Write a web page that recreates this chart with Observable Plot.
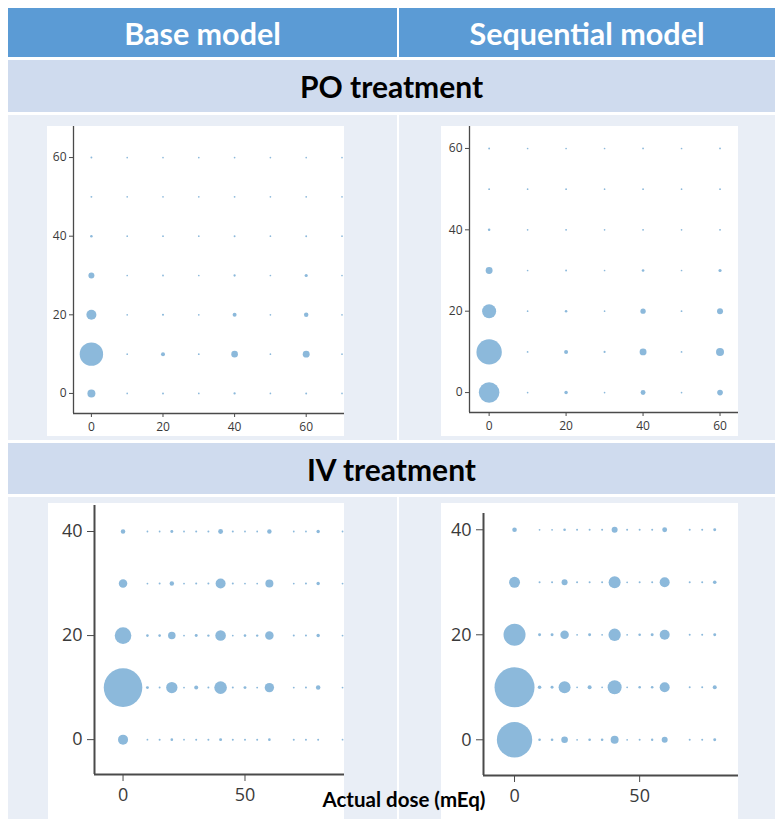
<!DOCTYPE html>
<html>
<head>
<meta charset="utf-8">
<script src="https://cdn.jsdelivr.net/npm/d3@7"></script>
<script src="https://cdn.jsdelivr.net/npm/@observablehq/plot@0.6"></script>
<style>
  html, body { margin: 0; padding: 0; background: #ffffff; }
  #root { position: relative; width: 775px; height: 819px; overflow: hidden; background: #ffffff; }
  .cell { position: absolute; box-sizing: border-box; }
  .hdr { background: #5B9BD5; color: #ffffff; font-family: Lato, "Open Sans", sans-serif; font-weight: 700; font-size: 30.5px; display: flex; align-items: center; justify-content: center; }
  .sub { background: #CFDBEE; color: #000000; font-family: Lato, "Open Sans", sans-serif; font-weight: 700; font-size: 30px; display: flex; align-items: center; justify-content: center; }
  .pan { background: #E9EEF6; }
  .plot { position: absolute; }
  #xlabel { position: absolute; left: 0; width: 808px; top: 786px; line-height: 26px; text-align: center; font-family: Lato, "Open Sans", sans-serif; font-weight: 700; font-size: 20.5px; color: #000; }
</style>
</head>
<body>
<div id="root">
  <div class="cell hdr" style="left:8px;top:8px;width:389px;height:49px;">Base model</div>
  <div class="cell hdr" style="left:399px;top:8px;width:376px;height:49px;">Sequential model</div>
  <div class="cell sub" style="left:8px;top:60px;width:767px;height:52px;">PO treatment</div>
  <div class="cell pan" style="left:8px;top:115px;width:389px;height:325px;"></div>
  <div class="cell pan" style="left:399px;top:115px;width:376px;height:325px;"></div>
  <div class="cell sub" style="left:8px;top:443px;width:767px;height:51px;">IV treatment</div>
  <div class="cell pan" style="left:8px;top:497px;width:389px;height:322px;"></div>
  <div class="cell pan" style="left:399px;top:497px;width:376px;height:322px;"></div>
  <div class="plot" id="poBase" style="left:47px;top:126px;"></div>
  <div class="plot" id="poSeq" style="left:441px;top:126px;"></div>
  <div class="plot" id="ivBase" style="left:48px;top:503px;"></div>
  <div class="plot" id="ivSeq" style="left:441px;top:503px;"></div>
  <div id="xlabel">Actual dose (mEq)</div>
</div>
<script>
// ---- Data (bubble area values, rows = y level, columns = x level) ----
const poBaseX = [0, 10, 20, 30, 40, 50, 60, 70];
const poSeqX  = [0, 10, 20, 30, 40, 50, 60];
const poY     = [0, 10, 20, 30, 40, 50, 60];
const poTicks = [0, 20, 40, 60];

const poBaseSize = [
  [16,  0.7, 0.9, 0.7, 1.3, 0.7, 0.9, 0.7],   // y = 0
  [137, 0.7, 4,   0.8, 11,  0.7, 12,  0.7],   // y = 10
  [25,  0.7, 1.1, 0.7, 4,   0.7, 5,   0.7],   // y = 20
  [9,   0.7, 0.8, 0.7, 1.3, 0.7, 2.5, 0.7],   // y = 30
  [1.6, 0.7, 0.8, 0.7, 0.9, 0.7, 0.9, 0.7],   // y = 40
  [0.9, 0.7, 0.7, 0.7, 0.8, 0.7, 0.8, 0.7],   // y = 50
  [0.9, 0.7, 0.7, 0.7, 0.7, 0.7, 0.7, 0.7]    // y = 60
];
const poSeqSize = [
  [106, 0.7, 3,   0.7, 6,   0.7, 8],    // y = 0
  [161, 0.8, 4,   1.1, 12,  0.8, 16],   // y = 10
  [49,  0.7, 1.6, 0.7, 7,   0.8, 9],    // y = 20
  [12,  0.7, 0.9, 0.7, 1.8, 0.7, 2.5],  // y = 30
  [1.6, 0.7, 0.9, 0.7, 0.9, 0.7, 0.9],  // y = 40
  [0.9, 0.7, 0.8, 0.7, 0.8, 0.7, 0.8],  // y = 50
  [0.9, 0.7, 0.7, 0.7, 0.8, 0.7, 0.8]   // y = 60
];

const ivBaseX = [0, 10, 15, 20, 25, 30, 35, 40, 45, 50, 55, 60, 70, 75, 80, 90];
const ivSeqX  = [0, 10, 15, 20, 25, 30, 35, 40, 45, 50, 55, 60, 70, 75, 80];
const ivY     = [0, 10, 20, 30, 40];
const ivXTicks = [0, 50];
const ivYTicks = [0, 20, 40];

const ivBaseSize = [
  [25,  0.8, 1,   1.7, 0.8, 1,   1,   2.2, 1,   1,   1,   1.7, 1,   1,   1,   0.8], // y = 0
  [372, 2.2, 1,   32,  0.8, 4,   1,   40,  1,   2.2, 0.9, 22,  0.9, 1,   5,   0.8], // y = 10
  [69,  1.7, 1.7, 14,  0.8, 2.2, 1.4, 28,  0.8, 1.7, 1.4, 18,  1,   1,   3,   0.8], // y = 20
  [18,  0.8, 1,   5,   0.8, 1,   1,   25,  1,   0.8, 0.8, 16,  0.8, 1,   3,   0.8], // y = 30
  [5,   0.8, 0.8, 2.2, 0.8, 1,   1,   6,   1,   0.8, 0.8, 5,   0.8, 0.8, 3,   0.8]  // y = 40
];
const ivSeqSize = [
  [313, 1.7, 1.7, 11,  0.8, 1.7, 1.7, 16,  0.8, 1,   1.4, 9,   1,   1,   2.2], // y = 0
  [400, 3.2, 2.2, 36,  0.8, 4,   0.8, 49,  0.8, 1.7, 1.7, 25,  1,   1,   4],   // y = 10
  [121, 2.2, 2.2, 18,  0.8, 2.2, 0.8, 38,  0.8, 1.7, 2.2, 25,  1,   1,   2.2], // y = 20
  [30,  1,   1,   9,   1,   1,   1,   36,  0.8, 1,   1,   25,  1,   1,   3.2], // y = 30
  [5.3, 0.8, 0.8, 1.7, 1,   1,   1,   9,   1,   1,   1,   6,   1,   1,   2.2]  // y = 40
];

// ---- helpers ----
function table(xs, ys, sizes) {
  const out = [];
  ys.forEach((y, i) => xs.forEach((x, j) => out.push({x, y, s: sizes[i][j]})));
  return out;
}

function panel(cfg) {
  const data = table(cfg.xs, cfg.ys, cfg.sizes);
  return Plot.plot({
    width: cfg.width, height: cfg.height,
    marginLeft: cfg.ml, marginRight: cfg.mr, marginTop: cfg.mt, marginBottom: cfg.mb,
    x: {domain: cfg.xdom, label: null},
    y: {domain: cfg.ydom, label: null},
    r: {type: "sqrt", domain: [0, 100], range: [0, 10]},
    style: {background: "#ffffff", fontFamily: "'Open Sans', sans-serif", fontSize: cfg.fs + "px", color: "#3a3a3a", overflow: "visible"},
    marks: [
      Plot.dot(data, {x: "x", y: "y", r: "s", fill: "#8cb9db", stroke: "none"}),
      Plot.ruleX([cfg.xdom[0]], {stroke: "#4a4a4a", strokeWidth: cfg.sw}),
      Plot.ruleY([cfg.ydom[0]], {stroke: "#4a4a4a", strokeWidth: cfg.sw}),
      Plot.axisX({ticks: cfg.xt, tickSize: cfg.ts, tickPadding: cfg.tp, label: null, stroke: "#4a4a4a"}),
      Plot.axisY({ticks: cfg.yt, tickSize: cfg.ts, tickPadding: cfg.tpy, label: null, stroke: "#4a4a4a"})
    ]
  });
}

document.getElementById("poBase").append(panel({
  xs: poBaseX, ys: poY, sizes: poBaseSize,
  width: 297, height: 310, ml: 26, mr: 0, mt: 0, mb: 23,
  xdom: [-5, 70.7], ydom: [-5.1, 67.9], xt: poTicks, yt: poTicks,
  fs: 12, ts: 4, tp: 5, tpy: 3, sw: 1.3
}));
document.getElementById("poSeq").append(panel({
  xs: poSeqX, ys: poY, sizes: poSeqSize,
  width: 297, height: 310, ml: 28, mr: 0, mt: 0, mb: 24,
  xdom: [-5.1, 64.8], ydom: [-4.9, 65.4], xt: poTicks, yt: poTicks,
  fs: 12, ts: 4, tp: 5, tpy: 3, sw: 1.3
}));
document.getElementById("ivBase").append(panel({
  xs: ivBaseX, ys: ivY, sizes: ivBaseSize,
  width: 296, height: 316, ml: 46, mr: 0, mt: 2, mb: 45,
  xdom: [-11.7, 90.8], ydom: [-6.7, 45], xt: ivXTicks, yt: ivYTicks,
  fs: 18, ts: 7, tp: 7, tpy: 5, sw: 2
}));
document.getElementById("ivSeq").append(panel({
  xs: ivSeqX, ys: ivY, sizes: ivSeqSize,
  width: 297, height: 316, ml: 42, mr: 0, mt: 10, mb: 44,
  xdom: [-12.4, 89.5], ydom: [-6.8, 43.1], xt: ivXTicks, yt: ivYTicks,
  fs: 18, ts: 7, tp: 7, tpy: 5, sw: 2
}));
</script>
</body>
</html>
